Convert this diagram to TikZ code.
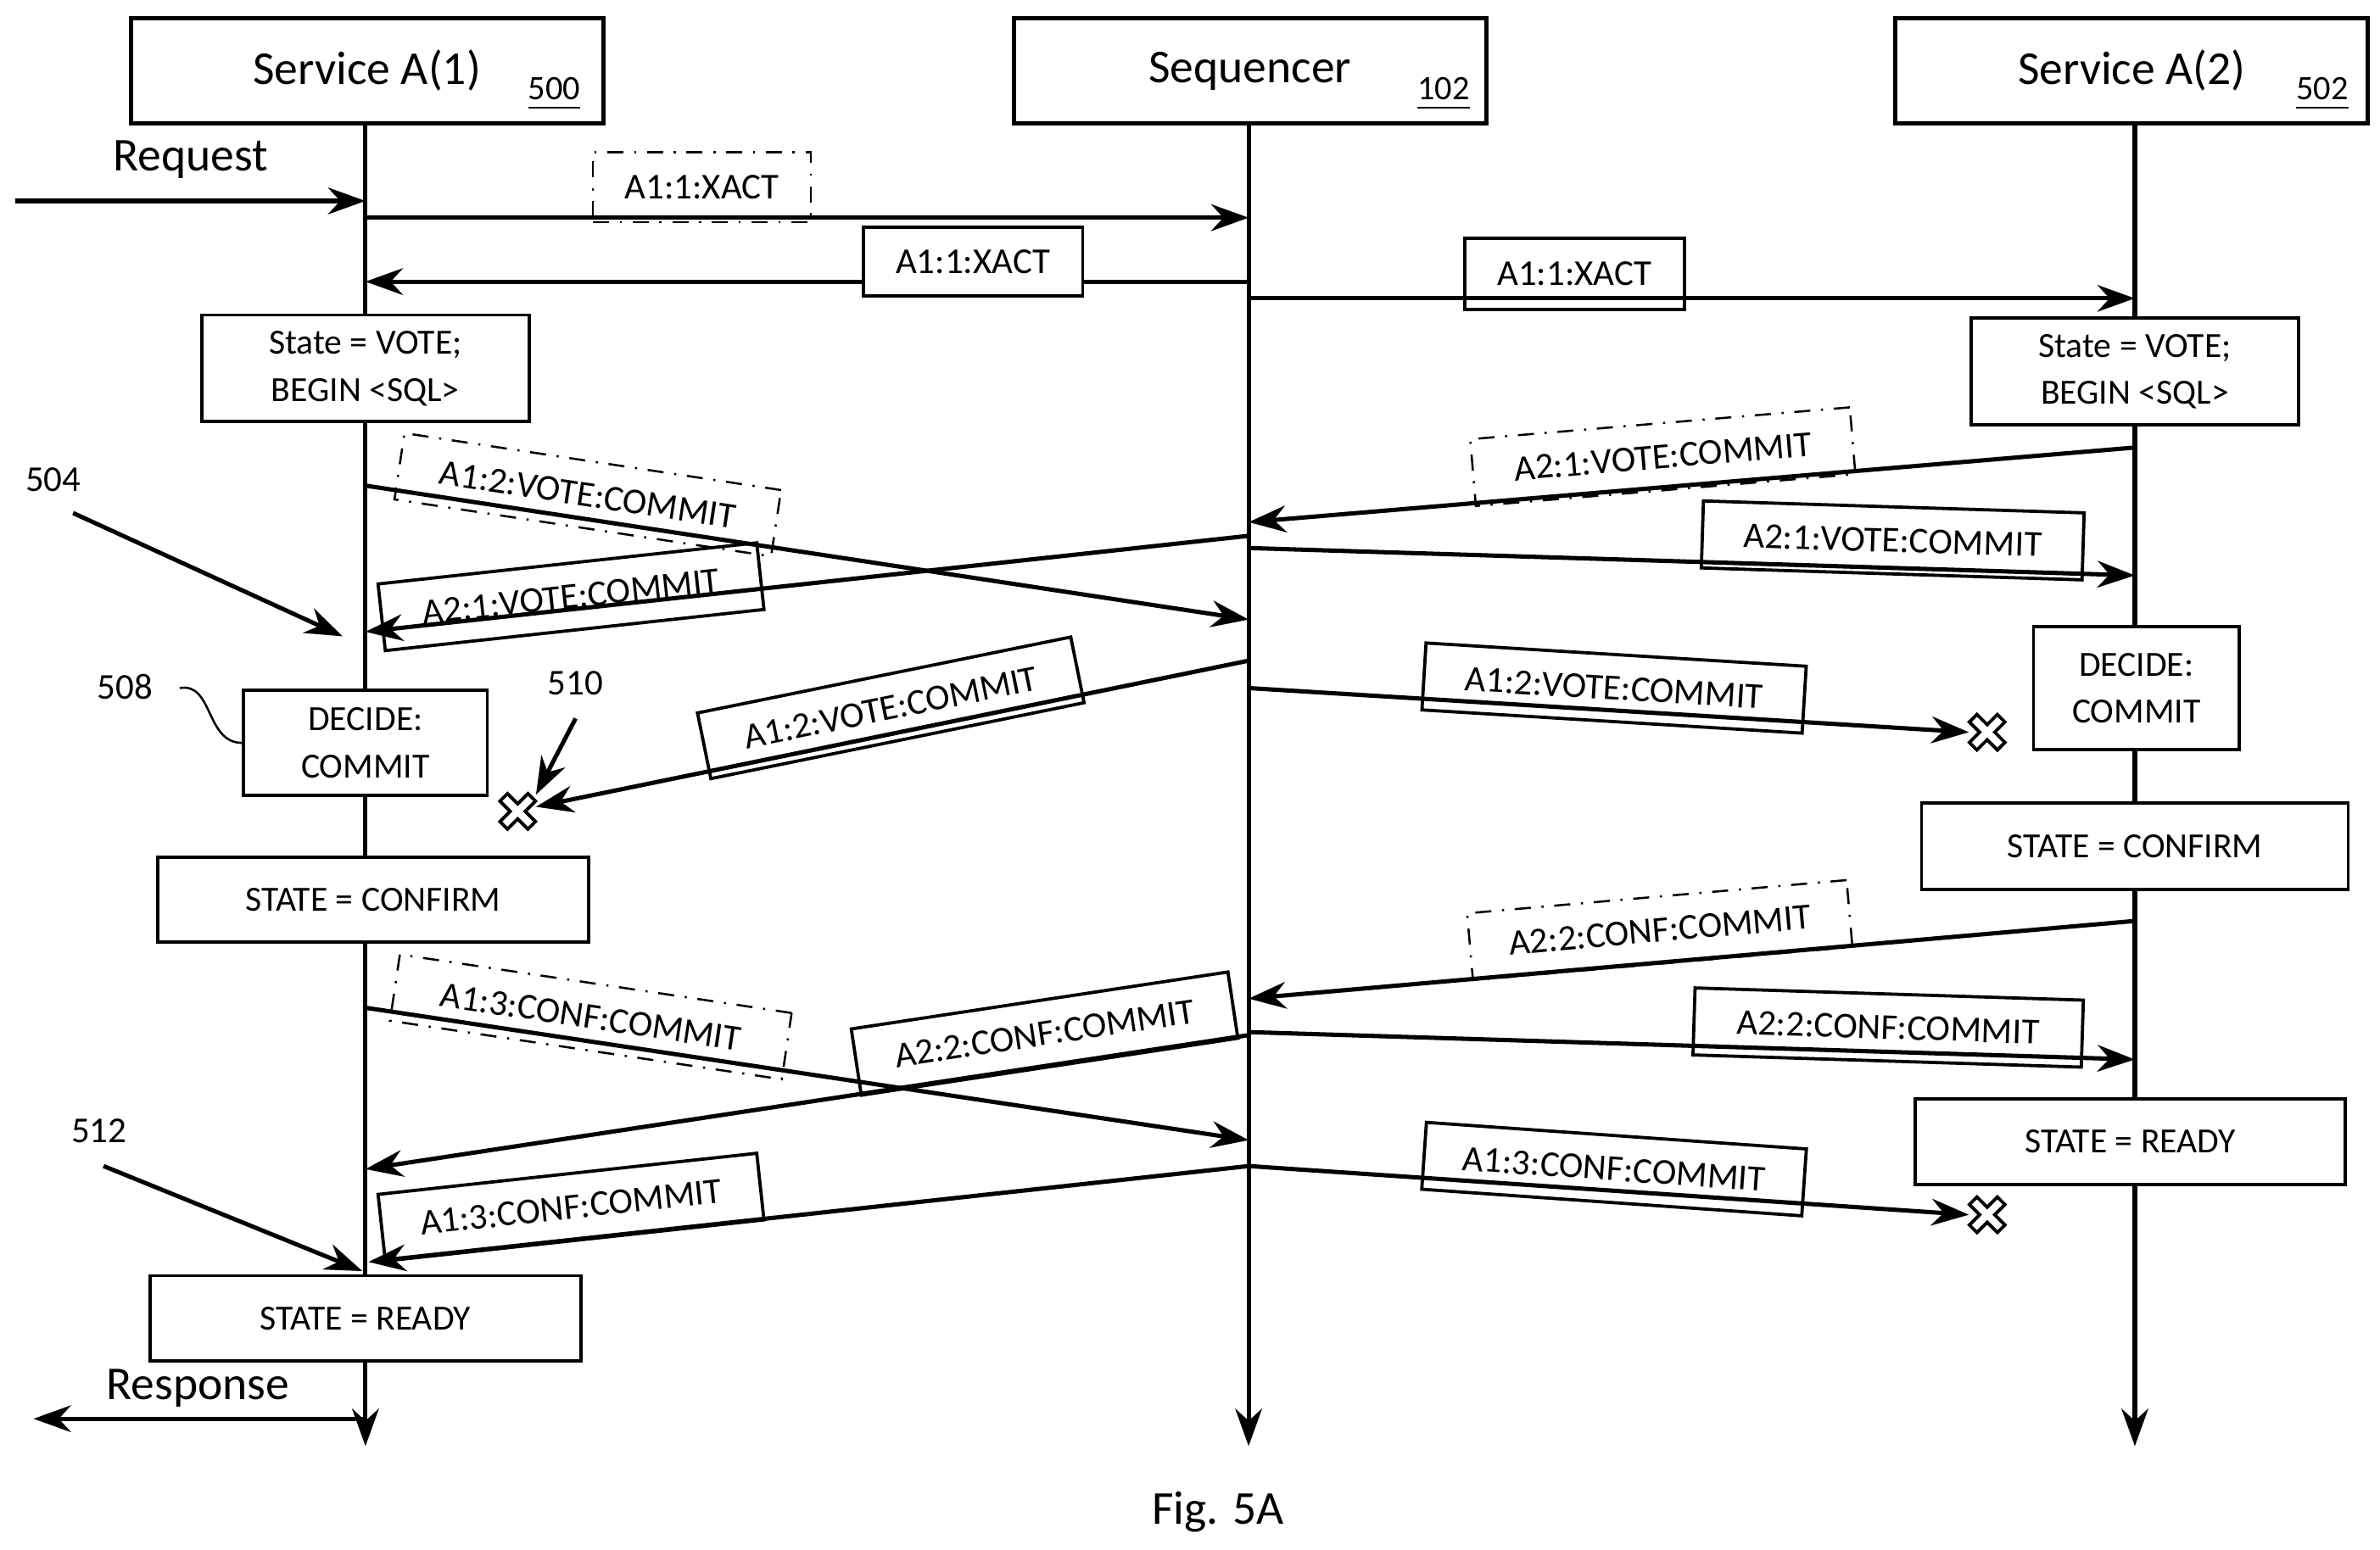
\documentclass[tikz,border=0pt]{standalone}
\usepackage{fontspec}
\setmainfont{Carlito}
\usetikzlibrary{arrows.meta}
\begin{document}
\begin{tikzpicture}[x=0.01cm,y=-0.01cm,
  every node/.style={font=\fontsize{6.6}{7.5}\selectfont},
  head/.style={draw,thick,minimum width=3.1cm,minimum height=0.69cm,font=\fontsize{8.8}{10}\selectfont},
  st/.style={draw,semithick,align=center,inner sep=0pt,font=\fontsize{6.6}{8.8}\selectfont},
  lbl/.style={draw,semithick,inner sep=0pt,minimum height=0.44cm,font=\fontsize{6.8}{8}\selectfont},
  dd/.style={lbl,thin,dash dot},
  msg/.style={thick,-{Stealth[length=7pt,width=5pt]}},
  life/.style={thick,-{Stealth[length=7pt,width=5pt]}},
  num/.style={font=\fontsize{6.4}{7}\selectfont}]
\useasboundingbox (0,0) rectangle (1563,1018);
% heads
\node[head] (hA) at (241,46.5) {Service A(1)};
\node[head] (hS) at (821,46.5) {Sequencer};
\node[head] (hB) at (1400,46.5) {Service A(2)};
\node[num] (n500) at (364,62) {\underline{500}};
\node[num] (n102) at (948,62) {\underline{102}};
\node[num] (n502) at (1525,62) {\underline{502}};
\coordinate (eA) at (240,950); \coordinate (eS) at (820,950); \coordinate (eB) at (1402,950);
\draw[life] (240,81) -- (eA);
\draw[life] (820,81) -- (eS);
\draw[life] (1402,81) -- (eB);
% request
\coordinate (rq0) at (10,132); \coordinate (rq1) at (240,132);
\draw[msg] (rq0) -- (rq1);
\node[font=\fontsize{8.8}{10}\selectfont] (req) at (125,105) {Request};
% xact
\coordinate (a1) at (240,143); \coordinate (a2) at (820,143);
\draw[msg] (a1) -- (a2);
\node[dd,minimum width=1.43cm,minimum height=0.46cm] (l1) at (461,123) {A1:1:XACT};
\coordinate (b1) at (820,185); \coordinate (b2) at (240,185);
\draw[msg] (b1) -- (b2);
\node[lbl,fill=white,minimum width=1.44cm,minimum height=0.45cm] (l2) at (639,172) {A1:1:XACT};
\coordinate (c1) at (820,196); \coordinate (c2) at (1402,196);
\draw[msg] (c1) -- (c2);
\node[lbl,minimum width=1.44cm,minimum height=0.47cm] (l3) at (1034,180) {A1:1:XACT};
% state vote
\node[st,fill=white,minimum width=2.15cm,minimum height=0.70cm] (sv1) at (240,242) {State = VOTE;\\BEGIN <SQL>};
\node[st,fill=white,minimum width=2.15cm,minimum height=0.70cm] (sv2) at (1402,244) {State = VOTE;\\BEGIN <SQL>};
% vote commits
\coordinate (d1) at (240,319); \coordinate (d2) at (820,407);
\draw[msg] (d1) -- (d2);
\node[dd,rotate=-8.6,minimum width=2.5cm] (l4) at (386,325) {A1:2:VOTE:COMMIT};
\coordinate (e1) at (1402,294); \coordinate (e2) at (820,343);
\draw[msg] (e1) -- (e2);
\node[dd,rotate=4.8,minimum width=2.5cm] (l5) at (1092,300) {A2:1:VOTE:COMMIT};
\coordinate (f1) at (820,352); \coordinate (f2) at (240,415);
\draw[msg] (f1) -- (f2);
\node[lbl,rotate=6.2,minimum width=2.5cm] (l6) at (375,392) {A2:1:VOTE:COMMIT};
\coordinate (g1) at (820,360); \coordinate (g2) at (1402,378);
\draw[msg] (g1) -- (g2);
\node[lbl,rotate=-1.8,minimum width=2.5cm] (l7) at (1243,355) {A2:1:VOTE:COMMIT};
\coordinate (h1) at (820,434); \coordinate (h2) at (352,530);
\draw[msg] (h1) -- (h2);
\node[lbl,rotate=11.5,minimum width=2.5cm] (l8) at (585,465) {A1:2:VOTE:COMMIT};
\coordinate (i1) at (820,452); \coordinate (i2) at (1293,481);
\draw[msg] (i1) -- (i2);
\node[lbl,rotate=-3.5,minimum width=2.5cm] (l9) at (1060,452) {A1:2:VOTE:COMMIT};
% X marks
\foreach \n/\p in {x1/{(340,533)},x2/{(1305,481)},x3/{(1305,798)}}{
  \draw[semithick,fill=white,rotate around={45:\p}] \p ++(-3.5,-13) -- ++(7,0) -- ++(0,9.5) -- ++(9.5,0) -- ++(0,7) -- ++(-9.5,0) -- ++(0,9.5) -- ++(-7,0) -- ++(0,-9.5) -- ++(-9.5,0) -- ++(0,-7) -- ++(9.5,0) -- cycle;
}
% 504, 510
\node[font=\fontsize{6.8}{8}\selectfont] (n504) at (35,315) {504};
\coordinate (p504) at (225,418);
\draw[msg] (48,337) -- (p504);
\node[font=\fontsize{6.8}{8}\selectfont] (n510) at (378,449) {510};
\coordinate (p510) at (352,522);
\draw[msg] (378,472) -- (p510);
% decide
\node[st,fill=white,minimum width=1.6cm,minimum height=0.69cm] (dc1) at (240,488) {DECIDE:\\COMMIT};
\node[st,fill=white,minimum width=1.35cm,minimum height=0.81cm] (dc2) at (1403,452) {DECIDE:\\COMMIT};
\node[font=\fontsize{6.8}{8}\selectfont] (n508) at (82,451) {508};
\draw[thin] (118,452) .. controls (140,448) and (135,488) .. (dc1.west);
% confirm
\node[st,fill=white,minimum width=2.8cm,minimum height=0.57cm] (cf2) at (1402,556) {STATE = CONFIRM};
\node[st,fill=white,minimum width=2.83cm,minimum height=0.56cm] (cf1) at (245,591) {STATE = CONFIRM};
% conf commits
\coordinate (j1) at (1402,605); \coordinate (j2) at (820,656);
\draw[msg] (j1) -- (j2);
\node[dd,rotate=5,minimum width=2.5cm] (l10) at (1090,611) {A2:2:CONF:COMMIT};
\coordinate (k1) at (240,662); \coordinate (k2) at (820,749);
\draw[msg] (k1) -- (k2);
\node[dd,rotate=-8.5,minimum width=2.6cm] (l11) at (388,668) {A1:3:CONF:COMMIT};
\coordinate (m1) at (820,678); \coordinate (m2) at (1402,696);
\draw[msg] (m1) -- (m2);
\node[lbl,rotate=-1.8,minimum width=2.55cm] (l12) at (1240,675) {A2:2:CONF:COMMIT};
\coordinate (o1) at (820,680); \coordinate (o2) at (240,768);
\draw[msg] (o1) -- (o2);
\node[lbl,rotate=8.6,minimum width=2.5cm] (l13) at (686,679) {A2:2:CONF:COMMIT};
\node[st,fill=white,minimum width=2.82cm,minimum height=0.56cm] (rd2) at (1399,750) {STATE = READY};
\coordinate (q1) at (820,766); \coordinate (q2) at (1293,798);
\draw[msg] (q1) -- (q2);
\node[lbl,rotate=-4,minimum width=2.5cm] (l14) at (1060,768) {A1:3:CONF:COMMIT};
\coordinate (s1) at (820,766); \coordinate (s2) at (242,829);
\draw[msg] (s1) -- (s2);
\node[lbl,rotate=6.2,minimum width=2.5cm] (l15) at (375,793) {A1:3:CONF:COMMIT};
% 512
\node[font=\fontsize{6.8}{8}\selectfont] (n512) at (65,743) {512};
\coordinate (p512) at (238,835);
\draw[msg] (68,766) -- (p512);
\node[st,fill=white,minimum width=2.83cm,minimum height=0.56cm] (rd1) at (240,866) {STATE = READY};
% response
\coordinate (rs0) at (240,932); \coordinate (rs1) at (22,932);
\draw[msg] (rs0) -- (rs1);
\node[font=\fontsize{8.8}{10}\selectfont] (resp) at (130,912) {Response};
\node[font=\fontsize{8.8}{10}\selectfont] (fig) at (800,993) {Fig. 5A};
\end{tikzpicture}
\end{document}
